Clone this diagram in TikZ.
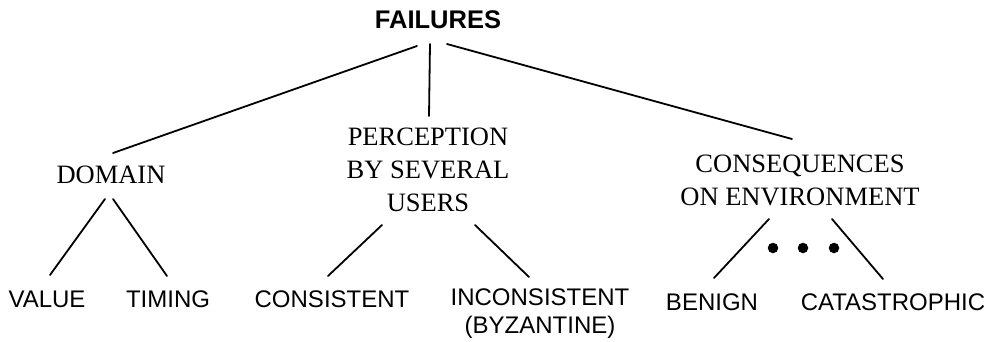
\documentclass[tikz,border=0pt]{standalone}
\usepackage{fontspec}
\setmainfont{Liberation Serif}
\setsansfont{Liberation Sans}
\usetikzlibrary{calc}
\begin{document}
\begin{tikzpicture}[x=1pt,y=-1pt,
  conn/.style={line width=1.8pt,line cap=round},
  rootlbl/.style={inner sep=0pt,font=\sffamily\bfseries\fontsize{25.5}{30}\selectfont},
  midlbl/.style={inner sep=0pt,align=center,font=\rmfamily\fontsize{26.5}{33}\selectfont},
  leaflbl/.style={inner sep=0pt,align=center,font=\sffamily\fontsize{24}{28}\selectfont},
  dotmark/.style={circle,fill=black,inner sep=0pt,minimum size=10.5pt}]
\useasboundingbox[fill=white] (0,0) rectangle (991,341);
% nodes
\node[rootlbl,anchor=base] (failures) at (438,28) {FAILURES};
\node[midlbl,anchor=base] (domain) at (111,183) {DOMAIN};
\node[midlbl,anchor=north] (perception) at (428,128) {PERCEPTION\\BY SEVERAL\\USERS};
\node[midlbl,anchor=north] (consequences) at (800,155) {CONSEQUENCES\\ON ENVIRONMENT};
\node[leaflbl,anchor=base] (value) at (47,307) {VALUE};
\node[leaflbl,anchor=base] (timing) at (168,307) {TIMING};
\node[leaflbl,anchor=base] (consistent) at (332,307) {CONSISTENT};
\node[leaflbl,anchor=north] (inconsistent) at (540,289) {INCONSISTENT\\(BYZANTINE)};
\node[leaflbl,anchor=base] (benign) at (712,310) {BENIGN};
\node[leaflbl,anchor=base] (catastrophic) at (893,310) {CATASTROPHIC};
\node[dotmark] (dot1) at (773,248) {};
\node[dotmark] (dot2) at (803,248) {};
\node[dotmark] (dot3) at (834,248) {};
% connectors
\draw[conn] ($(failures.base)+(-21,18)$) -- ($(domain.base)+(2,-30)$);
\draw[conn] ($(failures.base)+(-8,16)$) -- ($(perception.north)+(1,-12)$);
\draw[conn] ($(failures.base)+(9,16)$) -- ($(consequences.north)+(-8,-16)$);
\draw[conn] ($(domain.base)+(-6,16)$) -- ($(value.base)+(3,-32)$);
\draw[conn] ($(domain.base)+(2,16)$) -- ($(timing.base)+(-1,-31)$);
\draw[conn] ($(perception.north)+(-46,97)$) -- ($(consistent.base)+(-4,-31)$);
\draw[conn] ($(perception.north)+(47,97)$) -- ($(inconsistent.north)+(-11,-12)$);
\draw[conn] ($(consequences.north)+(-31,64)$) -- ($(benign.base)+(2,-32)$);
\draw[conn] ($(consequences.north)+(32,64)$) -- ($(catastrophic.base)+(-10,-31)$);
\end{tikzpicture}
\end{document}
